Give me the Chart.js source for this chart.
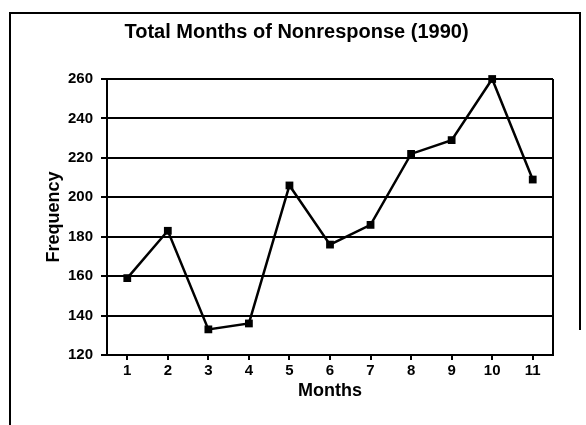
<!DOCTYPE html>
<html>
<head>
<meta charset="utf-8">
<script src="https://cdn.jsdelivr.net/npm/chart.js@4"></script>
<style>
  html, body { margin: 0; padding: 0; background: #fff; }
  #wrap { width: 586px; height: 425px; position: relative; }
</style>
</head>
<body>
<div id="wrap"><canvas id="chart"></canvas></div>
<script>
// données
const months = ['1', '2', '3', '4', '5', '6', '7', '8', '9', '10', '11'];
const frequency = [159, 183, 133, 136, 206, 176, 186, 222, 229, 260, 209];
const yTicks = [120, 140, 160, 180, 200, 220, 240, 260];

const fontFamily = '"Liberation Sans", Arial, sans-serif';

// cadre extérieur + bord droit de la zone du graphique
const framePlugin = {
    id: 'frame',
    afterDraw(chart) {
        const ctx = chart.ctx;
        const area = chart.chartArea;
        ctx.save();
        ctx.strokeStyle = '#000';
        ctx.lineWidth = 2;
        ctx.beginPath();
        ctx.moveTo(area.right, area.top);
        ctx.lineTo(area.right, area.bottom);
        ctx.stroke();
        ctx.beginPath();
        ctx.moveTo(10, 425);
        ctx.lineTo(10, 13);
        ctx.lineTo(580, 13);
        ctx.lineTo(580, 330);
        ctx.stroke();
        ctx.restore();
    }
};

const ctx = document.getElementById('chart');

new Chart(ctx, {
    type: 'line',
    data: {
        labels: months,
        datasets: [{
            label: 'Frequency',
            data: frequency,
            borderColor: '#000',
            backgroundColor: '#000',
            borderWidth: 2.5,
            tension: 0,
            clip: false,
            pointStyle: 'rect',
            pointRadius: 5.5,
            pointBorderWidth: 0
        }]
    },
    options: {
        responsive: true,
        maintainAspectRatio: false,
        animation: false,
        layout: { padding: { left: 40, right: 33, top: 10, bottom: 20 } },
        plugins: {
            legend: { display: false },
            tooltip: { enabled: false },
            title: {
                display: true,
                text: 'Total Months of Nonresponse (1990)',
                color: '#000',
                font: { family: fontFamily, size: 20, weight: 'bold' },
                padding: { top: 10, bottom: 35 }
            }
        },
        scales: {
            x: {
                offset: true,
                grid: { display: true, drawOnChartArea: false, drawTicks: true, tickLength: 5, color: '#000', lineWidth: 2 },
                border: { display: true, color: '#000', width: 2 },
                ticks: { color: '#000', padding: 2, maxRotation: 0, font: { family: fontFamily, size: 15, weight: 'bold' } },
                title: {
                    display: true,
                    text: 'Months',
                    color: '#000',
                    font: { family: fontFamily, size: 18, weight: 'bold' },
                    padding: { top: 0, bottom: 3 }
                },
                afterFit(scale) { scale.height = 50; }
            },
            y: {
                min: 120,
                max: 260,
                afterBuildTicks(scale) { scale.ticks = yTicks.map(v => ({ value: v })); },
                grid: { color: '#000', lineWidth: 2, tickLength: 6 },
                border: { display: true, color: '#000', width: 2 },
                ticks: { color: '#000', padding: 8, font: { family: fontFamily, size: 15, weight: 'bold' } },
                title: {
                    display: true,
                    text: 'Frequency',
                    color: '#000',
                    font: { family: fontFamily, size: 18, weight: 'bold' },
                    padding: { top: 3, bottom: 0 }
                },
                afterFit(scale) { scale.width = 67; }
            }
        }
    },
    plugins: [framePlugin]
});
</script>
</body>
</html>
